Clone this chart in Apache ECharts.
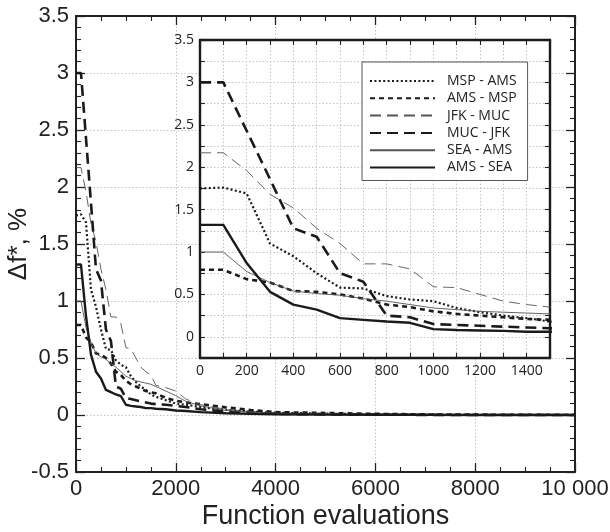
<!DOCTYPE html>
<html>
<head>
<meta charset="utf-8">
<script src="https://cdn.jsdelivr.net/npm/echarts@6/dist/echarts.min.js"></script>
<style>
html,body{margin:0;padding:0;background:#fff;}
#chart{width:610px;height:532px;}
</style>
</head>
<body>
<div id="chart"></div>
<script>
// Function evaluations (x values shared by all series)
var evals = [0,100,200,300,400,500,600,700,800,900,1000,1100,1200,1300,1400,1500,1600,1800,2000,2200,2500,3000,3500,4000,5000,6000,7000,8000,10000];
// Δf*, % for each route
var mspAms = [1.75,1.76,1.69,1.10,0.95,0.75,0.58,0.57,0.48,0.44,0.42,0.34,0.29,0.25,0.22,0.18,0.16,0.13,0.10,0.09,0.07,0.045,0.03,0.02,0.012,0.005,0.003,0.001,0];
var amsMsp = [0.79,0.79,0.68,0.64,0.54,0.53,0.50,0.45,0.38,0.35,0.30,0.27,0.25,0.23,0.21,0.20,0.19,0.15,0.125,0.11,0.095,0.067,0.044,0.025,0.018,0.01,0.005,0.003,0.002];
var jfkMuc = [2.17,2.17,1.96,1.68,1.52,1.28,1.10,0.86,0.86,0.80,0.59,0.58,0.50,0.42,0.38,0.35,0.26,0.24,0.21,0.14,0.09,0.05,0.03,0.015,0.008,0.003,0.001,0,0];
var mucJfk = [3.0,3.0,2.43,1.86,1.28,1.18,0.75,0.65,0.25,0.23,0.15,0.14,0.13,0.12,0.11,0.10,0.095,0.09,0.08,0.07,0.05,0.03,0.02,0.01,0.005,0.003,0.001,0,0];
var seaAms = [1.0,1.0,0.77,0.64,0.54,0.51,0.49,0.45,0.42,0.38,0.34,0.32,0.30,0.29,0.28,0.27,0.25,0.21,0.17,0.12,0.08,0.04,0.025,0.015,0.007,0.003,0.001,0,0];
var amsSea = [1.32,1.32,0.87,0.53,0.38,0.32,0.22,0.20,0.18,0.165,0.09,0.08,0.075,0.07,0.06,0.06,0.055,0.05,0.04,0.035,0.025,0.015,0.01,0.006,0.003,0.002,0.001,0,0];

var routeNames = ['MSP - AMS','AMS - MSP','JFK - MUC','MUC - JFK','SEA - AMS','AMS - SEA'];
var routeValues = [mspAms, amsMsp, jfkMuc, mucJfk, seaAms, amsSea];
var routeStyles = [
  {color:'#1a1a1a', width:2.2, type:[2,2.4]},
  {color:'#1a1a1a', width:2.6, type:[5,4]},
  {color:'#555555', width:0.9, type:[11,6]},
  {color:'#1a1a1a', width:2.6, type:[11,6]},
  {color:'#555555', width:0.9, type:'solid'},
  {color:'#1a1a1a', width:2.4, type:'solid'}
];

function pairs(vals){ return evals.map(function(x,i){ return [x, vals[i]]; }); }

var chart = echarts.init(document.getElementById('chart'), null, {renderer:'canvas'});

var bigFont = 'Liberation Sans';
var smallFont = 'Open Sans';
var dotted = {color:'#c4c4c4', width:1, type:[1.5,2]};

function mainX(pos, labels){
  return {
    type:'value', gridIndex:0, position:pos, min:0, max:10000, interval:2000,
    axisLine:{show:true, onZero:false, lineStyle:{color:'#222', width:2}},
    axisTick:{show:true, inside:true, length:9, lineStyle:{color:'#222', width:1.3}},
    minorTick:{show:true, splitNumber:4, length:5, lineStyle:{color:'#222', width:1.1}},
    axisLabel:{show:labels, margin:6, fontFamily:bigFont, fontSize:22, color:'#222',
      formatter:function(v){ return v >= 10000 ? String(v).replace(/(\d)(?=(\d{3})+$)/g,'$1 ') : String(v); }},
    splitLine:{show:labels, lineStyle:dotted},
    name: labels ? 'Function evaluations' : '', nameLocation:'middle', nameGap:31, nameMoveOverlap:false,
    nameTextStyle:{fontFamily:bigFont, fontSize:27, color:'#222'}
  };
}
function mainY(pos, labels){
  return {
    type:'value', gridIndex:0, position:pos, min:-0.5, max:3.5, interval:0.5,
    axisLine:{show:true, onZero:false, lineStyle:{color:'#222', width:2}},
    axisTick:{show:true, inside:true, length:9, lineStyle:{color:'#222', width:1.3}},
    minorTick:{show:true, splitNumber:5, length:5, lineStyle:{color:'#222', width:1.1}},
    axisLabel:{show:labels, margin:7, fontFamily:bigFont, fontSize:22, color:'#222'},
    splitLine:{show:labels, lineStyle:dotted},
    name: labels ? 'Δf*, %' : '', nameLocation:'middle', nameGap:44, nameMoveOverlap:false,
    nameTextStyle:{fontFamily:bigFont, fontSize:26, color:'#222'}
  };
}
function insetX(pos, labels){
  return {
    type:'value', gridIndex:1, position:pos, min:0, max:1500, interval:100, z:6,
    axisLine:{show:true, onZero:false, lineStyle:{color:'#1a1a1a', width:2.4}},
    axisTick:{show:true, inside:true, length:5, lineStyle:{color:'#222', width:1.1}},
    axisLabel:{show:labels, margin:6, fontFamily:smallFont, fontSize:14, color:'#222',
      formatter:function(v){ return (Math.round(v) % 200 === 0) ? String(Math.round(v)) : ''; }},
    splitLine:{show:labels, lineStyle:dotted}
  };
}
function insetY(pos, labels){
  return {
    type:'value', gridIndex:1, position:pos, min:-0.25, max:3.5, interval:0.25, z:6,
    axisLine:{show:true, onZero:false, lineStyle:{color:'#1a1a1a', width:2.4}},
    axisTick:{show:true, inside:true, length:5, lineStyle:{color:'#222', width:1.1}},
    axisLabel:{show:labels, margin:6, fontFamily:smallFont, fontSize:14, color:'#222',
      formatter:function(v){ var d = v*2; return (v >= 0 && Math.abs(d - Math.round(d)) < 1e-6) ? String(Math.round(v*100)/100) : ''; }},
    splitLine:{show:labels, lineStyle:dotted}
  };
}

var series = [];
routeNames.forEach(function(name, i){
  var st = routeStyles[i];
  series.push({
    name:name, type:'line', xAxisIndex:0, yAxisIndex:0, data:pairs(routeValues[i]),
    symbol:'none', showSymbol:false, clip:true, z:2,
    lineStyle:{color:st.color, width:st.width, type:st.type}, itemStyle:{color:st.color}
  });
});
routeNames.forEach(function(name, i){
  var st = routeStyles[i];
  series.push({
    name:name, type:'line', xAxisIndex:2, yAxisIndex:2, data:pairs(routeValues[i]),
    symbol:'none', showSymbol:false, clip:true, z:7,
    lineStyle:{color:st.color, width:st.width, type:st.type}, itemStyle:{color:st.color}
  });
});

chart.setOption({
  animation:false,
  backgroundColor:'#ffffff',
  grid:[
    {left:76, top:16, width:499, height:456, containLabel:false, outerBoundsMode:'none'},
    {left:200, top:40, width:350, height:318, containLabel:false, outerBoundsMode:'none', show:true,
     backgroundColor:'#ffffff', borderWidth:0, z:5}
  ],
  xAxis:[ mainX('bottom', true), mainX('top', false), insetX('bottom', true), insetX('top', false) ],
  yAxis:[ mainY('left', true), mainY('right', false), insetY('left', true), insetY('right', false) ],
  legend:{
    show:true, orient:'vertical', left:362, top:62, z:9,
    data:routeNames,
    backgroundColor:'#ffffff', borderColor:'#555', borderWidth:1,
    padding:[12,11,6,7],
    itemWidth:65, itemHeight:14, itemGap:3.3,
    itemStyle:{color:'rgba(0,0,0,0)', borderWidth:0, opacity:0},
    textStyle:{fontFamily:smallFont, fontSize:14, color:'#222', padding:[0,0,0,7]},
    selectedMode:false
  },
  series:series
});
</script>
</body>
</html>
